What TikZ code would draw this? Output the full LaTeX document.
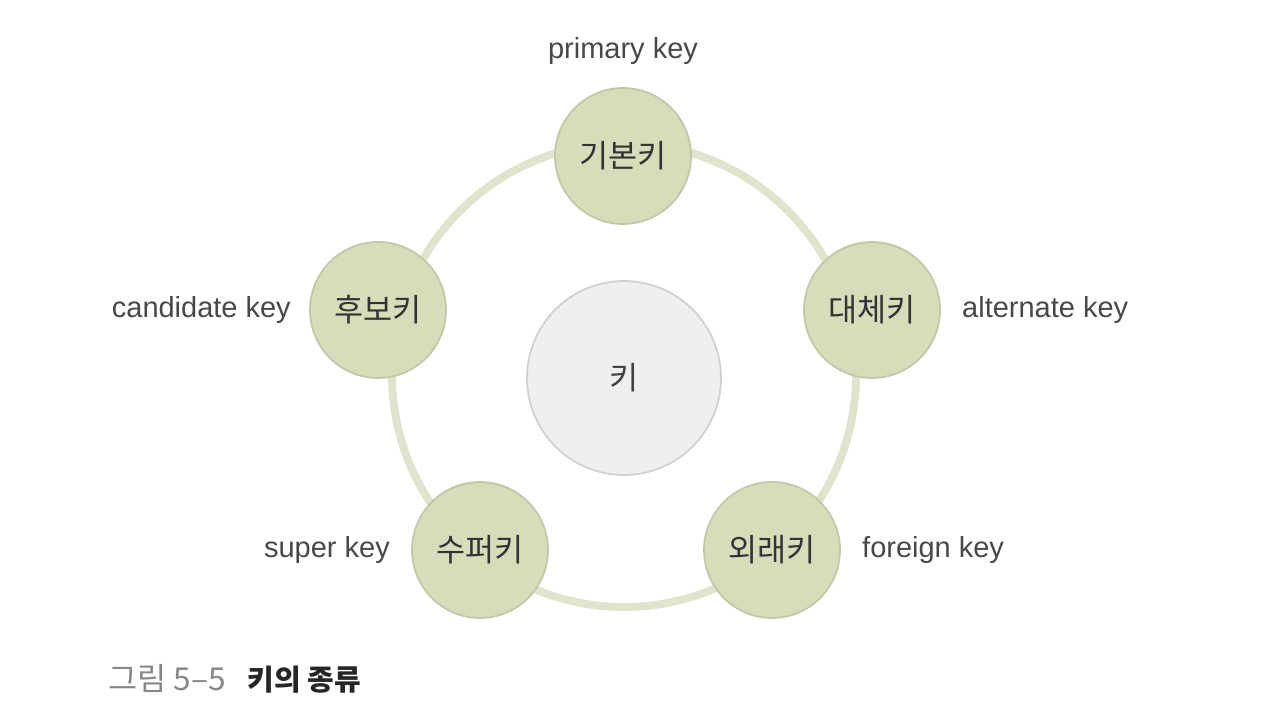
\documentclass[tikz,border=0pt]{standalone}
\usepackage{fontspec}
\setmainfont{Liberation Sans}
\newfontfamily\krfont{Noto Sans CJK KR}
\usepackage{tikz}
\usetikzlibrary{positioning}

\definecolor{keygreen}{RGB}{214,221,186}
\definecolor{keyedge}{RGB}{192,200,168}
\definecolor{ringgreen}{RGB}{222,229,204}
\definecolor{hubgray}{RGB}{239,239,239}
\definecolor{hubedge}{RGB}{208,208,208}
\definecolor{labelgray}{RGB}{72,72,72}
\definecolor{captiongray}{RGB}{135,135,135}

\begin{document}
\begin{tikzpicture}[x=0.02cm, y=-0.02cm, node distance=0.4cm]
% Define block styles
\tikzstyle{keynode} = [circle, draw=keyedge, line width=1pt, fill=keygreen,
    minimum size=2.72cm, inner sep=0pt, text=black!80,
    font=\krfont\fontsize{18}{21}\selectfont]
\tikzstyle{hub} = [circle, draw=hubedge, line width=1pt, fill=hubgray,
    minimum size=3.88cm, inner sep=0pt, text=black!75,
    font=\krfont\fontsize{18}{21}\selectfont]
\tikzstyle{keylabel} = [inner sep=0pt, text=labelgray,
    font=\fontsize{16.5}{20}\selectfont]
\tikzstyle{ring} = [draw=ringgreen, line width=4.5pt]
    \useasboundingbox (0,0) rectangle (1274,722);
    % ring behind the keys
    \draw [ring] (624,375) circle [radius=232];
    % Place nodes
    \node [hub] (key) at (624,378) {키};
    \node [keynode] (primary) at (623,156) {기본키};
    \node [keynode] (alternate) at (872,310) {대체키};
    \node [keynode] (foreign) at (772,550) {외래키};
    \node [keynode] (super) at (480,550) {수퍼키};
    \node [keynode] (candidate) at (378,310) {후보키};
    % English names
    \node [keylabel, above=0.45cm of primary] (primarylbl) {primary key};
    \node [keylabel, right=0.42cm of alternate] (alternatelbl) {alternate key};
    \node [keylabel, right=0.42cm of foreign] (foreignlbl) {foreign key};
    \node [keylabel, left=0.42cm of super] (superlbl) {super key};
    \node [keylabel, left=0.36cm of candidate] (candidatelbl) {candidate key};
    % caption
    \node [anchor=west, inner sep=0pt, font=\krfont\fontsize{18}{21}\selectfont]
        (caption) at (108,679) {\textcolor{captiongray}{그림 5–5}\hspace{0.44cm}{\fontsize{16.5}{20}\selectfont\bfseries\color{black!85}키의 종류}};
\end{tikzpicture}
\end{document}
